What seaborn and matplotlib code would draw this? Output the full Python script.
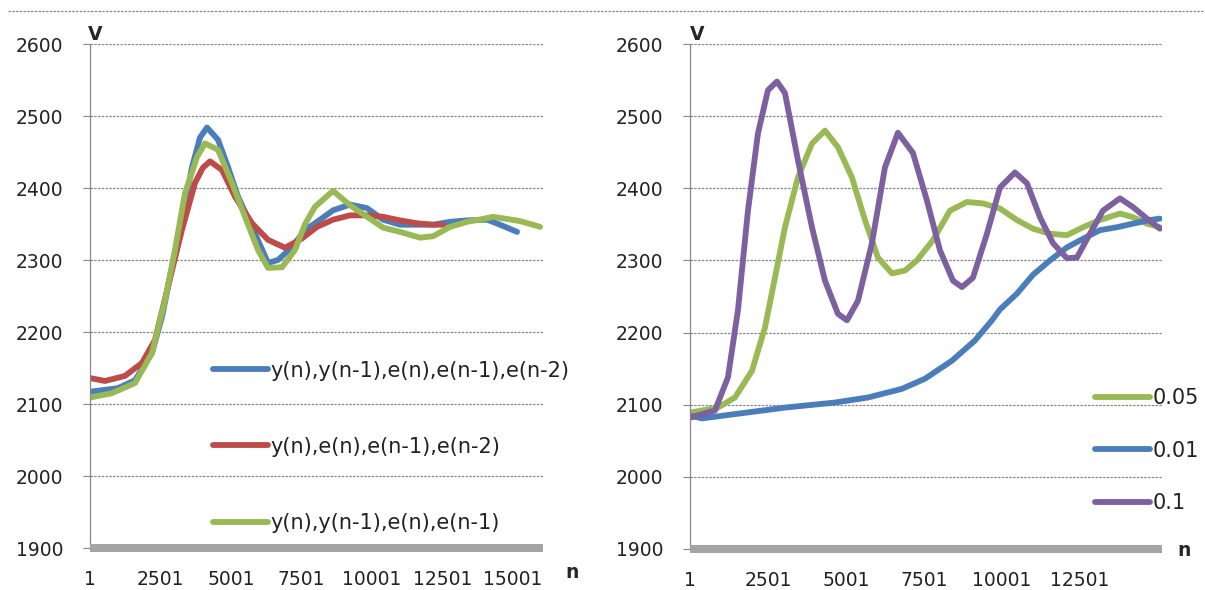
import numpy as np
import pandas as pd
import matplotlib
matplotlib.use("Agg")
import matplotlib.pyplot as plt
from matplotlib.lines import Line2D
import seaborn as sns

# ---------------- data (left panel) ----------------
left_labels = ["y(n),y(n-1),e(n),e(n-1),e(n-2)", "y(n),e(n),e(n-1),e(n-2)", "y(n),y(n-1),e(n),e(n-1)"]
blue_n = [1, 993, 1596, 2199, 2553, 2908, 3262, 3617, 3900, 4149, 4539, 4894, 5248, 5745, 6312, 6666,
          7163, 7624, 7979, 8617, 9220, 9823, 10390, 10993, 12163, 12766, 13368, 14078, 14539, 15141]
blue_v = [2117, 2122, 2133, 2171, 2221, 2290, 2355, 2429, 2470, 2484, 2467, 2429, 2388, 2346, 2296, 2300,
          2318, 2342, 2351, 2369, 2377, 2372, 2356, 2349, 2349, 2353, 2355, 2356, 2349, 2339]
red_n = [1, 532, 1241, 1844, 2305, 2766, 3262, 3723, 4000, 4255, 4681, 5142, 5745, 6312, 6915, 7518,
         8049, 8617, 9220, 9823, 10390, 10993, 11595, 12163, 12517]
red_v = [2136, 2132, 2139, 2157, 2189, 2263, 2342, 2407, 2428, 2437, 2425, 2388, 2351, 2328, 2317, 2330,
         2346, 2356, 2362, 2362, 2360, 2355, 2351, 2349, 2349]
green_n = [1, 780, 1596, 2199, 2660, 3014, 3369, 3794, 4078, 4539, 5035, 5496, 5957, 6312, 6808,
           7269, 7624, 7979, 8617, 9220, 9823, 10390, 10993, 11702, 12163, 12766, 13368, 13936,
           14290, 14787, 15248, 15957]
green_v = [2109, 2115, 2129, 2171, 2244, 2314, 2393, 2443, 2462, 2453, 2407, 2360, 2314, 2289, 2290,
           2314, 2350, 2374, 2396, 2376, 2360, 2345, 2339, 2331, 2333, 2346, 2353, 2357, 2360,
           2357, 2354, 2346]
left_xticks = [1, 2501, 5001, 7501, 10001, 12501, 15001]

# ---------------- data (right panel) ----------------
right_labels = ["0.05", "0.01", "0.1"]
g05_n = [1, 897, 1442, 1987, 2404, 2724, 3045, 3461, 3910, 4327, 4743, 5192, 5609, 6025, 6474,
         6891, 7275, 7788, 8333, 8878, 9391, 9936, 10480, 10993, 11538, 12083, 12596, 13141,
         13782, 14198, 14647, 15064]
g05_v = [2089, 2096, 2110, 2147, 2207, 2276, 2346, 2415, 2462, 2480, 2457, 2415, 2356, 2304, 2282,
         2286, 2300, 2328, 2369, 2381, 2379, 2372, 2356, 2344, 2337, 2335, 2346, 2356, 2365,
         2360, 2351, 2346]
b01_n = [1, 385, 1442, 3045, 4647, 5705, 6795, 7532, 8397, 9134, 9679, 9936, 10480, 10993,
         11538, 12083, 12596, 13141, 13685, 14198, 14743, 15064]
b01_v = [2085, 2081, 2087, 2096, 2103, 2110, 2122, 2136, 2161, 2189, 2217, 2232, 2254, 2280,
         2300, 2318, 2330, 2342, 2346, 2351, 2356, 2358]
p1_n = [1, 801, 1218, 1538, 1859, 2179, 2500, 2788, 3045, 3461, 3910, 4327, 4743, 5032, 5384,
        5833, 6250, 6666, 7147, 7596, 8013, 8429, 8718, 9070, 9519, 9936, 10416, 10801, 11218,
        11634, 12083, 12403, 12820, 13237, 13782, 14198, 14647, 15064]
p1_v = [2082, 2092, 2138, 2231, 2369, 2476, 2536, 2548, 2532, 2439, 2346, 2272, 2226, 2217, 2244,
        2324, 2429, 2477, 2449, 2383, 2314, 2272, 2263, 2276, 2337, 2401, 2422, 2407, 2360,
        2324, 2303, 2304, 2337, 2369, 2386, 2374, 2358, 2344]
right_xticks = [1, 2501, 5001, 7501, 10001, 12501]
yticks = [1900, 2000, 2100, 2200, 2300, 2400, 2500, 2600]

# ---------------- frames ----------------
df_left = pd.concat([
    pd.DataFrame({"n": blue_n, "V": blue_v, "s": left_labels[0]}),
    pd.DataFrame({"n": red_n, "V": red_v, "s": left_labels[1]}),
    pd.DataFrame({"n": green_n, "V": green_v, "s": left_labels[2]}),
], ignore_index=True)
df_right = pd.concat([
    pd.DataFrame({"n": g05_n, "V": g05_v, "s": right_labels[0]}),
    pd.DataFrame({"n": b01_n, "V": b01_v, "s": right_labels[1]}),
    pd.DataFrame({"n": p1_n, "V": p1_v, "s": right_labels[2]}),
], ignore_index=True)

BLUE, RED, GREEN, PURPLE = "#4A7EBB", "#BE4B48", "#98B954", "#7D60A0"

sns.set_theme(style="white")
plt.rcParams["font.family"] = ["DejaVu Sans"]

W, H = 1205, 590
fig = plt.figure(figsize=(W / 100, H / 100), dpi=100)

def px_axes(x0, y0, x1, y1):
    return fig.add_axes([x0 / W, 1 - y1 / H, (x1 - x0) / W, (y1 - y0) / H])

axL = px_axes(90, 44, 543, 548)
axR = px_axes(690, 44, 1162, 549)

sns.lineplot(data=df_left, x="n", y="V", hue="s", hue_order=left_labels,
             palette=[BLUE, RED, GREEN], sort=False, estimator=None, lw=4.2, ax=axL)
sns.lineplot(data=df_right, x="n", y="V", hue="s", hue_order=right_labels,
             palette=[GREEN, BLUE, PURPLE], sort=False, estimator=None, lw=4.2, ax=axR)

TICK_FS = 13.5
LEG_FS = 15

def style(ax, xticks, xmax):
    ax.set_xlim(1, xmax)
    ax.set_ylim(1900, 2600)
    ax.set_yticks(yticks)
    ax.set_xticks(xticks)
    ax.set_xticklabels([str(t) for t in xticks], fontsize=TICK_FS, color="#222222")
    ax.set_yticklabels([str(t) for t in yticks], fontsize=TICK_FS, color="#222222")
    ax.set_xlabel("")
    ax.set_ylabel("")
    ax.grid(axis="y", color="#888888", linestyle=(0, (2, 1)), lw=0.9)
    ax.grid(axis="x", visible=False)
    for s in ["top", "right"]:
        ax.spines[s].set_visible(False)
    ax.spines["left"].set_color("#888888")
    ax.spines["left"].set_linestyle((0, (2, 1)))
    ax.spines["left"].set_linewidth(0.9)
    ax.spines["bottom"].set_color("#a4a4a4")
    ax.spines["bottom"].set_linewidth(5.8)
    ax.spines["bottom"].set_capstyle("butt")
    ax.tick_params(axis="y", left=True, length=5, width=0.8, color="#888888", pad=14)
    ax.tick_params(axis="x", bottom=False, pad=10)
    ax.set_facecolor("white")

style(axL, left_xticks, 16060)
style(axR, right_xticks, 15130)

# legends
legL = axL.legend(loc="upper left", bbox_to_anchor=(0.272, 0.372), frameon=False, fontsize=LEG_FS,
                  handlelength=2.65, handletextpad=0.1, labelspacing=2.7, borderpad=0, borderaxespad=0,
                  title=None)
for t in legL.get_texts():
    t.set_color("#222222")
legR = axR.legend(loc="upper left", bbox_to_anchor=(0.858, 0.318), frameon=False, fontsize=LEG_FS,
                  handlelength=2.65, handletextpad=0.1, labelspacing=1.55, borderpad=0, borderaxespad=0,
                  title=None)
for t in legR.get_texts():
    t.set_color("#222222")

# axis letters
fig.text(88 / W, 1 - 34 / H, "V", fontsize=13.5, fontweight="bold", ha="left", va="center")
fig.text(690 / W, 1 - 34 / H, "V", fontsize=13.5, fontweight="bold", ha="left", va="center")
fig.text(565 / W, 1 - 572 / H, "n", fontsize=13.5, fontweight="bold", ha="left", va="center")
fig.text(1177 / W, 1 - 550 / H, "n", fontsize=13.5, fontweight="bold", ha="left", va="center")

# top separator line
fig.add_artist(Line2D([8 / W, 1.0], [1 - 11 / H, 1 - 11 / H], transform=fig.transFigure,
                      color="#888888", lw=0.9, linestyle=(0, (2, 1))))

fig.savefig("out.png", dpi=100, facecolor="white")
